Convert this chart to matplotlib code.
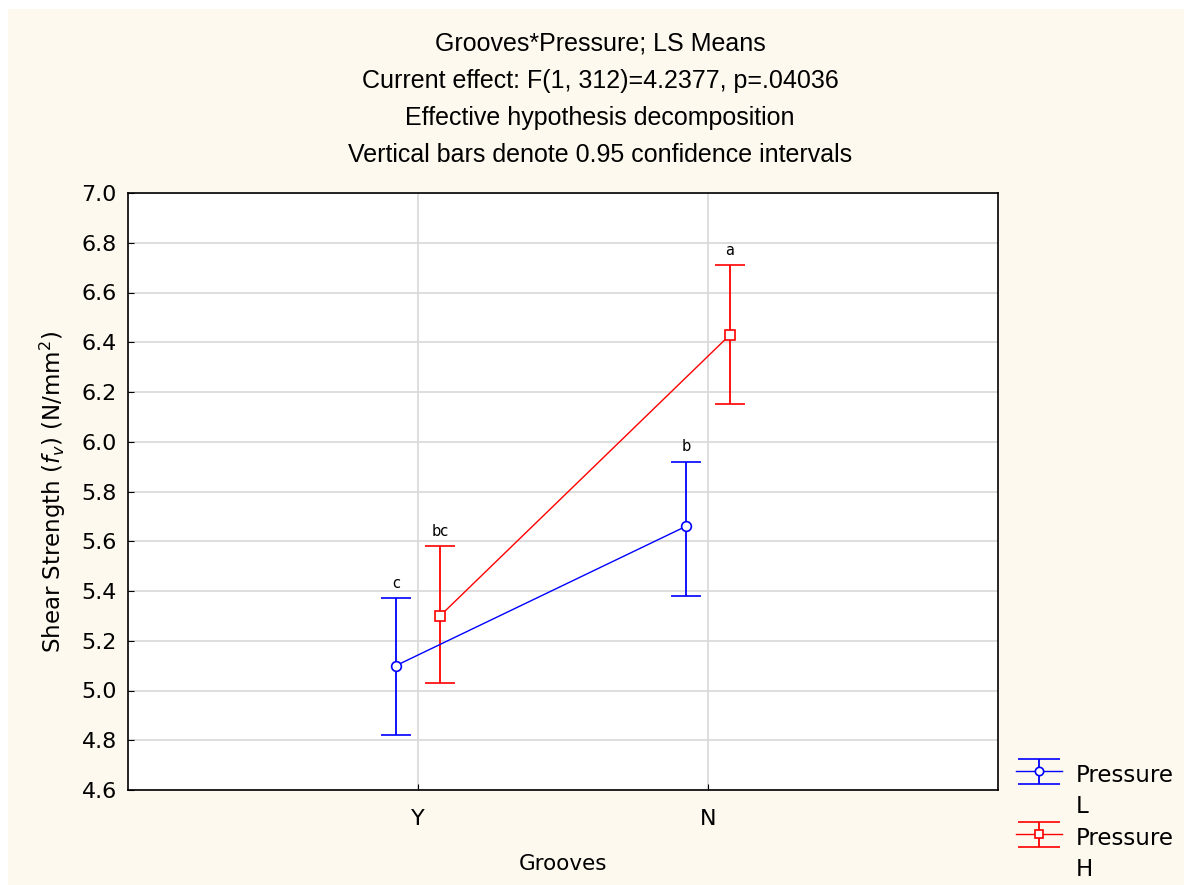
import numpy as np
import matplotlib
matplotlib.use('Agg')
import matplotlib.pyplot as plt
from matplotlib.patches import Rectangle
from matplotlib.transforms import Affine2D
from matplotlib.legend_handler import HandlerErrorbar
from matplotlib.container import ErrorbarContainer

plt.rcParams['font.family'] = ['DejaVu Sans']
plt.rcParams['mathtext.fontset'] = 'dejavusans'

# LS means and 0.95 confidence limits
grooves = ['Y', 'N']
mean_L = [5.10, 5.66]
lo_L = [4.82, 5.38]
hi_L = [5.37, 5.92]
mean_H = [5.30, 6.43]
lo_H = [5.03, 6.15]
hi_H = [5.58, 6.71]
letters_L = ['c', 'b']
letters_H = ['bc', 'a']

bg = '#fdf9ee'
fig = plt.figure(figsize=(11.84, 8.85), dpi=100, facecolor='white')
fig.patches.append(Rectangle((8/1184, 0), 1, 1-9/885, transform=fig.transFigure,
                             facecolor=bg, edgecolor='none', zorder=-10))
ax = fig.add_axes([128/1184, 1-790/885, 870/1184, 597/885])
ax.set_facecolor('white')

x = np.arange(1, len(grooves)+1)
off = 0.076

def draw(xs, m, lo, hi, col, mk, lab, letters):
    m = np.array(m); lo = np.array(lo); hi = np.array(hi)
    eb = ax.errorbar(xs, m, yerr=[m-lo, hi-m], fmt=mk+'-', lw=1, color=col, mfc='white',
                     mec=col, ms=7, mew=1.2, ecolor=col, elinewidth=1.3,
                     capsize=11, capthick=1.3, label=lab, zorder=3)
    for xi, h, t in zip(xs, hi, letters):
        ax.text(xi, h+0.03, t, ha='center', va='bottom', fontsize=10.5, color='black')
    return eb

draw(x-off, mean_L, lo_L, hi_L, '#0000ff', 'o', 'Pressure\nL', letters_L)
draw(x+off, mean_H, lo_H, hi_H, '#ff0000', 's', 'Pressure\nH', letters_H)

ax.set_xlim(0, 3)
ax.set_ylim(4.6, 7.0)
yt = np.arange(4.6, 7.01, 0.2)
ax.set_yticks(yt)
ax.set_yticklabels([f'{v:.1f}' for v in yt])
ax.set_xticks(x)
ax.set_xticklabels(grooves)
ax.tick_params(labelsize=16, length=4, direction='in', colors='black', pad=8)
ax.tick_params(axis='x', pad=14)
ax.grid(True, color='#d8d8d8', lw=1.2)
ax.set_axisbelow(True)
for s in ax.spines.values():
    s.set_color('black'); s.set_linewidth(1.2)

ax.set_xlabel('Grooves', fontsize=15.5, labelpad=18)
ax.set_ylabel(r'Shear Strength ($f_v$) (N/mm$^2$)', fontsize=16.5, labelpad=10)

titles = ['Grooves*Pressure; LS Means',
          'Current effect: F(1, 312)=4.2377, p=.04036',
          'Effective hypothesis decomposition',
          'Vertical bars denote 0.95 confidence intervals']
for i, t in enumerate(titles):
    fig.text(600/1184, 1-(44+37*i)/885, t, ha='center', va='center', fontsize=18,
             family='Liberation Sans')


# legend key: wide caps, drawn level with the first line of the label
class KeyHandler(HandlerErrorbar):
    def create_artists(self, legend, orig_handle, xdescent, ydescent, width, height,
                       fontsize, trans):
        trans = Affine2D().translate(0, 15) + trans
        return super().create_artists(legend, orig_handle, xdescent, ydescent,
                                      width, height, fontsize, trans)

def upd(h, orig):
    h.update_from(orig)
    if hasattr(orig, 'get_marker') and orig.get_marker() == '_':
        h.set_markersize(30)
    if hasattr(orig, 'get_marker') and orig.get_marker() in ('o', 's'):
        h.set_markersize(6)

leg = ax.legend(loc='upper left', bbox_to_anchor=(1016/1184, 1-764/885),
                bbox_transform=fig.transFigure, frameon=False, fontsize=16.5,
                handlelength=2.0, handletextpad=0.6, labelspacing=0.4, borderaxespad=0,
                borderpad=0,
                handler_map={ErrorbarContainer: KeyHandler(yerr_size=0.55, update_func=upd)})
for t in leg.get_texts():
    t.set_linespacing(1.45)

fig.savefig('out.png', dpi=100, facecolor='white')
